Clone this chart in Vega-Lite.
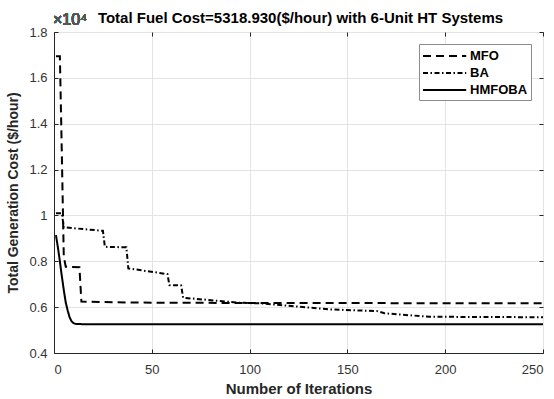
{
  "$schema": "https://vega.github.io/schema/vega-lite/v6.json",
  "width": 489,
  "height": 321,
  "autosize": {"type": "none"},
  "padding": {"left": 54, "top": 32, "right": 11, "bottom": 46},
  "background": "white",
  "config": {
    "view": {"stroke": "#262626", "strokeWidth": 1},
    "font": "Liberation Sans",
    "axis": {
      "labelFont": "Liberation Sans",
      "labelFontSize": 13,
      "labelColor": "#333333",
      "titleFont": "Liberation Sans",
      "titleFontSize": 14,
      "titleFontWeight": "bold",
      "titleColor": "#262626",
      "gridColor": "#e3e3e3",
      "gridWidth": 1,
      "domainColor": "#262626",
      "tickColor": "#262626",
      "tickSize": -4
    }
  },
  "data": {
    "values": [
      {"iter": 1, "cost": 16940, "algo": "MFO"},
      {"iter": 3, "cost": 16940, "algo": "MFO"},
      {"iter": 4, "cost": 12700, "algo": "MFO"},
      {"iter": 5, "cost": 8200, "algo": "MFO"},
      {"iter": 6, "cost": 7760, "algo": "MFO"},
      {"iter": 13, "cost": 7740, "algo": "MFO"},
      {"iter": 14, "cost": 6240, "algo": "MFO"},
      {"iter": 40, "cost": 6200, "algo": "MFO"},
      {"iter": 100, "cost": 6180, "algo": "MFO"},
      {"iter": 250, "cost": 6170, "algo": "MFO"},
      {"iter": 1, "cost": 10090, "algo": "BA"},
      {"iter": 4, "cost": 10090, "algo": "BA"},
      {"iter": 5, "cost": 9480, "algo": "BA"},
      {"iter": 25, "cost": 9330, "algo": "BA"},
      {"iter": 26, "cost": 8630, "algo": "BA"},
      {"iter": 37, "cost": 8610, "algo": "BA"},
      {"iter": 38, "cost": 7690, "algo": "BA"},
      {"iter": 58, "cost": 7440, "algo": "BA"},
      {"iter": 59, "cost": 6960, "algo": "BA"},
      {"iter": 65, "cost": 6950, "algo": "BA"},
      {"iter": 66, "cost": 6410, "algo": "BA"},
      {"iter": 78, "cost": 6320, "algo": "BA"},
      {"iter": 95, "cost": 6190, "algo": "BA"},
      {"iter": 107, "cost": 6160, "algo": "BA"},
      {"iter": 117, "cost": 6080, "algo": "BA"},
      {"iter": 141, "cost": 5900, "algo": "BA"},
      {"iter": 165, "cost": 5830, "algo": "BA"},
      {"iter": 169, "cost": 5730, "algo": "BA"},
      {"iter": 192, "cost": 5580, "algo": "BA"},
      {"iter": 250, "cost": 5560, "algo": "BA"},
      {"iter": 1, "cost": 9140, "algo": "HMFOBA"},
      {"iter": 2, "cost": 8600, "algo": "HMFOBA"},
      {"iter": 3, "cost": 8000, "algo": "HMFOBA"},
      {"iter": 4, "cost": 7350, "algo": "HMFOBA"},
      {"iter": 5, "cost": 6750, "algo": "HMFOBA"},
      {"iter": 6, "cost": 6200, "algo": "HMFOBA"},
      {"iter": 7, "cost": 5850, "algo": "HMFOBA"},
      {"iter": 8, "cost": 5550, "algo": "HMFOBA"},
      {"iter": 9, "cost": 5380, "algo": "HMFOBA"},
      {"iter": 10, "cost": 5300, "algo": "HMFOBA"},
      {"iter": 11, "cost": 5270, "algo": "HMFOBA"},
      {"iter": 13, "cost": 5260, "algo": "HMFOBA"},
      {"iter": 20, "cost": 5255, "algo": "HMFOBA"},
      {"iter": 250, "cost": 5250, "algo": "HMFOBA"}
    ]
  },
  "resolve": {"axis": {"x": "independent", "y": "independent"}},
  "layer": [
    {
      "mark": {"type": "line", "color": "black", "strokeWidth": 2},
      "encoding": {
        "x": {
          "field": "iter", "type": "quantitative",
          "scale": {"domain": [0, 250], "nice": false},
          "axis": {"values": [0, 50, 100, 150, 200, 250], "title": "Number of Iterations", "titleFontSize": 15, "titlePadding": 5, "labelPadding": 14, "grid": true}
        },
        "y": {
          "field": "cost", "type": "quantitative",
          "scale": {"domain": [4000, 18000], "nice": false, "zero": false},
          "axis": {
            "values": [4000, 6000, 8000, 10000, 12000, 14000, 16000, 18000],
            "labelExpr": "format(datum.value / 10000, '~g')",
            "labelPadding": 11,
            "title": "Total Generation Cost ($/hour)",
            "titlePadding": 8,
            "grid": true
          }
        },
        "strokeDash": {
          "field": "algo", "type": "nominal",
          "scale": {"domain": ["MFO", "BA", "HMFOBA"], "range": [[8, 5], [5, 2.5, 1.5, 2.5], [1, 0]]},
          "legend": {
            "title": null,
            "orient": "none",
            "legendX": 365,
            "legendY": 12,
            "symbolType": "M-1,0H4.4",
            "symbolSize": 256,
            "symbolStrokeWidth": 2,
            "symbolStrokeColor": "black",
            "labelFont": "Liberation Sans",
            "labelFontSize": 13,
            "labelFontWeight": "bold",
            "labelColor": "black",
            "labelOffset": 30,
            "labelExpr": "datum.label + '    '",
            "rowPadding": 1,
            "padding": 3,
            "strokeColor": "#8c8c8c",
            "fillColor": "white"
          }
        },
        "detail": {"field": "algo"}
      }
    },
    {
      "mark": {"type": "text", "text": "×10⁴", "align": "left", "baseline": "alphabetic", "dy": -7, "dx": -1, "font": "Liberation Sans", "fontSize": 16, "fontWeight": "normal", "color": "#555555"},
      "encoding": {
        "x": {"datum": 0, "type": "quantitative", "axis": {"orient": "top", "values": [0, 50, 100, 150, 200, 250], "labels": false, "title": null, "grid": false, "domain": false}},
        "y": {"datum": 18000, "type": "quantitative", "axis": {"orient": "right", "values": [4000, 6000, 8000, 10000, 12000, 14000, 16000, 18000], "labels": false, "title": null, "grid": false, "domain": false}}
      }
    }
  ],
  "title": {
    "text": "Total Fuel Cost=5318.930($/hour) with 6-Unit HT Systems",
    "font": "Liberation Sans",
    "fontSize": 15,
    "fontWeight": "bold",
    "color": "black",
    "anchor": "middle",
    "dx": 2,
    "offset": -14
  }
}
